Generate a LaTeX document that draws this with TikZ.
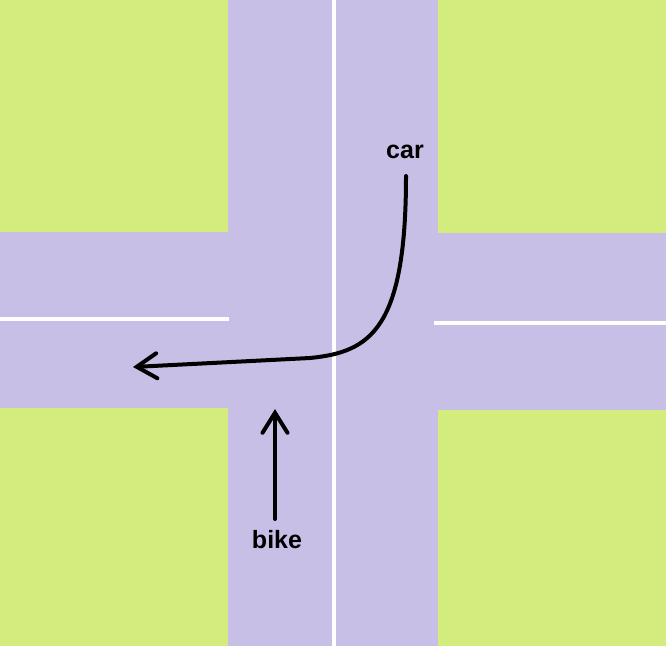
\documentclass[tikz,border=0pt]{standalone}
\usepackage{fontspec}
\setmainfont{Liberation Sans}
\usetikzlibrary{arrows.meta}
\definecolor{road}{RGB}{200,191,231}
\definecolor{grass}{RGB}{212,235,125}
\tikzset{
  lane/.style={draw=white, line width=4pt},
  label/.style={font=\bfseries\fontsize{25}{28}\selectfont, inner sep=0pt, anchor=base},
  move/.style={line width=4pt, line cap=round, -{Straight Barb[length=20pt,width=25pt,line cap=round]}},
}
\begin{document}
\begin{tikzpicture}[x=1pt,y=-1pt]
\useasboundingbox (0,0) rectangle (666,646);
\fill[road] (0,0) rectangle (666,646);
\fill[grass] (0,0) rectangle (228,232);
\fill[grass] (438,0) rectangle (666,233);
\fill[grass] (0,408) rectangle (228,646);
\fill[grass] (438,410) rectangle (666,646);
\draw[lane] (333.5,0) -- (333.5,646);
\draw[lane] (0,319) -- (229,319);
\draw[lane] (434,323) -- (666,323);
\node[label] (car) at (405,158) {car};
\node[label] (bike) at (277,548) {bike};
\coordinate (carstart) at (406,176);
\coordinate (carend) at (133,367);
\coordinate (bikestart) at (275,519);
\coordinate (bikeend) at (275,409);
\draw[move] (carstart) .. controls (406,330) and (370,352) .. (310,358) -- (carend);
\draw[move] (bikestart) -- (bikeend);
\end{tikzpicture}
\end{document}
